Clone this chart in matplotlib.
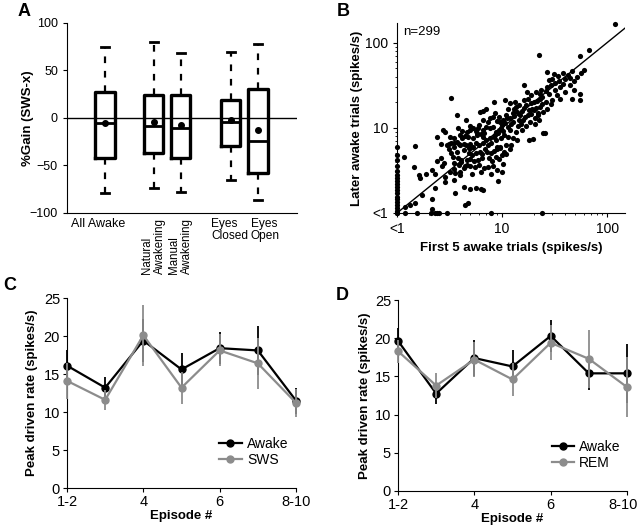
import numpy as np
import matplotlib
matplotlib.use("Agg")
import matplotlib.pyplot as plt
from matplotlib.ticker import LogLocator, NullFormatter
from matplotlib.lines import Line2D
from matplotlib.transforms import ScaledTranslation

plt.rcParams['font.family'] = ['Liberation Sans', 'DejaVu Sans']

# ---------------- Panel A data ----------------
groups = ["All Awake", "Natural\nAwakening", "Manual\nAwakening", "Eyes\nClosed", "Eyes\nOpen"]
whisk_hi = [75, 80, 68, 69, 78]
q3 = [27, 24, 24, 19, 31]
medians = [-5.6, -8.4, -10.2, -4.2, -24.6]
q1 = [-42, -36.5, -42.5, -29, -58]
whisk_lo = [-79, -74, -78, -65, -86]
means = [-5.3, -4.2, -7.7, -2.5, -12.6]

# ---------------- Panel B data ----------------
# 0 means "<1" (plotted on the axis)
first5 = [0]*20 + [1.2, 1.55, 2.1, 2.3, 2.4, 2.5, 3.0, 7.8, 24] + \
    [1.16, 1.49, 1.44, 1.61, 1.67, 1.73, 1.49, 1.34, 1.2, 1.9] + \
    [2.15, 2.32, 2.4, 2.64, 2.78, 2.7, 2.88, 2.88, 2.32, 2.15, 2.15, 2.4, 2.77, 2.86, 2.6] + \
    [3.3, 3.6, 4.3, 3.46, 3.6, 4.0, 4.3, 3.87, 3.46, 4.1, 3.3, 3.7, 4.3, 3.1, 3.46, 3.9, 4.3, 3.7, 3.8, 3.97,
     3.2, 3.5, 3.7, 3.3, 4.2, 3.0, 3.1, 3.5, 4.0, 4.5, 4.4, 3.2, 3.4, 4.1, 3.8, 4.4, 4.0, 3.5, 4.2, 4.4] + \
    [4.6, 4.6, 4.9, 4.9, 4.6, 4.95, 5.25, 5.6, 5.9, 6.6, 4.7, 5.25, 5.8, 6.6, 7.0, 4.5, 4.8, 5.3, 5.7, 6.0,
     6.6, 6.2, 6.6, 6.6, 4.8, 5.2, 5.6, 6.1, 6.5, 4.9, 5.4, 5.9, 6.4, 5.0, 5.5, 6.0, 6.8, 5.2, 6.3, 5.0,
     5.7, 6.3, 6.6, 4.7, 6.9, 5.8, 6.3, 6.8, 5.0, 6.0] + \
    [7.6, 8.2, 9.3, 9.6, 7.1, 7.7, 8.2, 8.7, 9.3, 7.6, 8.3, 8.7, 9.8, 7.4, 7.9, 8.9, 9.5, 8.4, 7.2, 7.8,
     8.4, 9.0, 9.6, 7.5, 8.1, 8.8, 9.4, 9.9, 7.3, 8.2, 8.9, 9.2, 9.9, 7.8, 8.5, 9.2, 9.7, 7.4, 8.6, 9.0, 7.0] + \
    [10.3, 10, 10.7, 11.5, 11.9, 12.8, 10.5, 11.3, 12.6, 10.9, 12.2, 10.7, 11.9, 13.3, 11.3, 12.6, 10.9, 14,
     10.4, 11.0, 10.2, 13.5, 14.2, 12.0, 13.0, 14.5, 11.2, 10.3, 12.2, 13.7, 14.8, 14.0, 11.8, 12.9, 14.6] + \
    [16, 15.5, 16.5, 17, 18, 19, 20, 21, 22, 23, 24, 16, 17.5, 19, 21, 23, 15.2, 16.8, 18.5, 20.5,
     22.5, 24.5, 18, 19.5, 22.5, 24.5, 15.8, 17.8, 20, 21.5, 23.5, 16.3, 18.8, 22, 24, 19.3, 20.8, 17.2, 15.5, 23.0] + \
    [27, 31, 30, 34, 38, 42, 46, 40, 35, 29, 27, 32, 36, 44, 48, 55, 46.5, 27, 25.5, 28,
     33, 26, 30, 52, 56, 48, 40, 36, 26, 29, 55, 32, 60, 44, 38, 28] + \
    [67, 55, 120]
later = [6.0, 4.8, 4.2, 3.6, 3.1, 2.8, 2.6, 2.4, 2.2, 2.0, 1.85, 1.7, 1.55, 1.45, 1.35, 1.25, 1.15, 1.05, 0, 0] + \
    [0]*9 + \
    [4.5, 6.1, 3.5, 2.8, 2.6, 1.63, 1.32, 1.24, 1.19, 2.9] + \
    [3.2, 2.9, 4.1, 4.4, 3.9, 3.55, 2.66, 2.33, 1.95, 1.45, 1.12, 7.7, 9.4, 9.0, 6.5] + \
    [22.5, 1.73, 2.03, 2.44, 2.92, 3.05, 3.34, 3.66, 3.82, 4.18, 5.0, 5.2, 5.5, 6.5, 6.6, 6.5, 6.4, 14.1, 9.85, 8.2,
     7.8, 7.5, 6.9, 6.6, 7.5, 6.3, 5.7, 6.0, 6.3, 12.3, 1.25, 3.0, 4.6, 4.0, 4.4, 3.6, 2.8, 3.3, 9.2, 8.0] + \
    [3.66, 4.18, 5.8, 6.5, 9.0, 9.4, 9.85, 9.15, 9.85, 9.4, 7.8, 7.5, 8.2, 7.8, 7.2, 6.27, 5.74, 6.0, 6.56, 6.27,
     6.56, 15.4, 15.7, 12.3, 5.0, 4.8, 5.1, 5.2, 4.9, 4.3, 4.1, 4.2, 4.4, 3.6, 3.5, 3.7, 3.4, 2.9, 3.0, 1.9,
     1.95, 1.9, 1.88, 1.3, 5.6, 8.8, 8.5, 8.6, 10.5, 10.8] + \
    [13, 13.4, 13.5, 11.8, 10.3, 9.85, 10.3, 9.0, 9.4, 7.5, 7.8, 7.2, 7.5, 6.27, 6.56, 6.0, 5.74, 20.2, 5.2, 5.0,
     5.3, 5.6, 5.9, 4.4, 4.1, 4.6, 4.3, 4.8, 3.5, 3.6, 3.2, 2.35, 3.0, 2.9, 8.3, 8.6, 10.0, 11.8, 15.0, 12.0, 16.5] + \
    [12.3, 10.8, 11.3, 10.3, 12.9, 11.8, 8.2, 7.8, 7.5, 6.27, 6.27, 21, 19.5, 20, 16.5, 15, 14.3, 15.5,
     5.2, 4.9, 3.8, 9.0, 10.5, 9.5, 13.8, 12.5, 13.0, 9.3, 11.0, 17.5, 14.0, 7.2, 5.6, 16.8, 18.5] + \
    [32, 15.8, 13.5, 18.5, 16, 14.5, 20, 17, 15, 22, 19, 21, 22, 24, 26, 25, 11.0, 10.5, 11.8, 13,
     12.5, 15.5, 7.2, 7.3, 71, 8.8, 12.2, 14.2, 16.2, 20.5, 28, 17, 19.5, 14, 23, 16.8, 11.2, 26, 9.5, 17.5] + \
    [45, 43, 37, 41, 44, 42, 46, 37, 35, 32, 30, 28, 30, 32, 28, 25, 21.5, 16.7, 8.7, 25,
     24, 27, 21, 40, 44, 35, 26, 22, 20, 19, 21, 34, 48, 38, 33, 36] + \
    [82, 69, 165]
n_label = "n=299"

# ---------------- Panels C & D data ----------------
episodes = ["1-2", "3", "4", "5", "6", "7", "8-10"]
episode_ticks = ["1-2", "4", "6", "8-10"]
awake_c = [16.1, 13.2, 19.4, 15.6, 18.4, 18.1, 11.5]
awake_c_err = [2.0, 1.4, 2.8, 2.1, 2.1, 3.2, 1.7]
sws_c = [14.1, 11.6, 20.1, 13.2, 18.1, 16.4, 11.2]
sws_c_err = [2.4, 1.3, 4.0, 2.1, 2.1, 3.4, 1.8]
awake_d = [19.65, 12.75, 17.4, 16.3, 20.3, 15.4, 15.4]
awake_d_err = [1.7, 1.3, 2.3, 2.2, 2.1, 2.2, 3.9]
rem_d = [18.3, 13.8, 17.2, 14.6, 19.4, 17.3, 13.6]
rem_d_err = [1.5, 1.6, 2.3, 2.2, 2.3, 3.8, 3.9]

GRAY = '#8c8c8c'
W, H = 640, 528
fig = plt.figure(figsize=(6.4, 5.28), dpi=100)

def box(l, t, r, b):
    return [l / W, 1 - b / H, (r - l) / W, (b - t) / H]

# ---------------- A ----------------
axA = fig.add_axes(box(67, 23, 297, 213))
pos = [1.4, 3.2, 4.2, 6.05, 7.05]
stats = []
for i in range(len(groups)):
    stats.append(dict(med=medians[i], q1=q1[i], q3=q3[i], whislo=whisk_lo[i],
                      whishi=whisk_hi[i], mean=means[i], fliers=[], label=groups[i]))
axA.axhline(0, color='k', lw=1, zorder=1)
axA.bxp(stats, positions=pos, widths=0.72, showmeans=True, showfliers=False,
        boxprops=dict(color='k', lw=2.4), medianprops=dict(color='k', lw=2),
        whiskerprops=dict(color='k', lw=1.6, ls=(0, (3, 3.5))),
        capprops=dict(color='k', lw=2), capwidths=0.3,
        meanprops=dict(marker='o', markerfacecolor='k', markeredgecolor='k', markersize=4))
axA.set_xlim(0, 8.5)
axA.set_ylim(-100, 100)
axA.set_yticks([-100, -50, 0, 50, 100])
axA.set_xticks(pos)
axA.set_xticklabels([])
axA.tick_params(axis='x', length=0)
axA.tick_params(axis='y', labelsize=9, length=3, width=0.8)
for s in ('top', 'right'):
    axA.spines[s].set_visible(False)
lab_specs = [
    (1.15, dict(rotation=0, ha='center', fontsize=9)),
    (3.2, dict(rotation=90, ha='center', fontsize=8.3, multialignment='left')),
    (4.2, dict(rotation=90, ha='center', fontsize=8.3, multialignment='left')),
    (5.33, dict(rotation=0, ha='left', fontsize=8.6, multialignment='left')),
    (7.3, dict(rotation=0, ha='center', fontsize=8.6, multialignment='center')),
]
xt = axA.get_xaxis_transform()
for g, (xp, kw) in zip(groups, lab_specs):
    axA.text(xp, -0.025, g, transform=xt, va='top', linespacing=1.05, **kw)
axA.set_ylabel("%Gain (SWS-x)", fontsize=9.5, fontweight='bold')
axA.yaxis.set_label_coords(-0.143, 0.5)
fig.text(18 / W, 1 - 12 / H, "A", fontsize=13, fontweight='bold', ha='left', va='center')

# ---------------- B ----------------
axB = fig.add_axes(box(397, 23, 625, 213))
axB.set_xscale('log')
axB.set_yscale('log')
axB.set_xlim(1, 148)
axB.set_ylim(1, 170)
xs = np.maximum(np.array(first5, dtype=float), 1)
ys = np.maximum(np.array(later, dtype=float), 1)
axB.plot([1, 200], [1, 200], color='k', lw=1, zorder=2)
axB.scatter(xs, ys, s=14, color='k', zorder=3, clip_on=False, linewidths=0)
axB.set_xticks([1, 10, 100])
axB.set_xticklabels(['<1', '10', '100'])
axB.set_yticks([1, 10, 100])
axB.set_yticklabels(['<1', '10', '100'])
axB.xaxis.set_minor_locator(LogLocator(subs=np.arange(2, 10)))
axB.yaxis.set_minor_locator(LogLocator(subs=np.arange(2, 10)))
axB.xaxis.set_minor_formatter(NullFormatter())
axB.yaxis.set_minor_formatter(NullFormatter())
axB.tick_params(which='major', labelsize=10, length=3, width=0.8)
axB.tick_params(which='minor', length=1.5, width=0.6)
for s in ('top', 'right'):
    axB.spines[s].set_visible(False)
axB.text(0.025, 0.95, n_label, transform=axB.transAxes, fontsize=9.5, ha='left', va='center')
axB.set_xlabel("First 5 awake trials (spikes/s)", fontsize=9.5, fontweight='bold')
axB.set_ylabel("Later awake trials (spikes/s)", fontsize=9.5, fontweight='bold')
axB.yaxis.set_label_coords(-0.149, 0.5)
fig.text(337 / W, 1 - 12 / H, "B", fontsize=13, fontweight='bold', ha='left', va='center')

# ---------------- C & D ----------------
def episode_panel(rect, a_vals, a_err, b_vals, b_err, b_label, letter, lpos, ylx, last_shift):
    ax = fig.add_axes(rect)
    xpos = np.arange(len(episodes))
    ax.errorbar(xpos, a_vals, yerr=a_err, fmt='none', ecolor='k', elinewidth=1.3, capsize=0,
                zorder=2, clip_on=False)
    ax.plot(xpos, a_vals, color='k', lw=1.6, marker='o', markersize=5, zorder=3, clip_on=False)
    ax.errorbar(xpos, b_vals, yerr=b_err, fmt='none', ecolor=GRAY, elinewidth=1.3, capsize=0,
                zorder=4, clip_on=False)
    ax.plot(xpos, b_vals, color=GRAY, lw=1.6, marker='o', markersize=5, zorder=5, clip_on=False)
    ax.set_xlim(0, 6)
    ax.set_ylim(0, 25)
    ax.set_yticks([0, 5, 10, 15, 20, 25])
    ax.set_xticks([0, 2, 4, 6])
    ax.set_xticklabels(episode_ticks)
    ax.tick_params(labelsize=10.5, length=3, width=0.8, pad=2)
    if last_shift:
        lab = ax.xaxis.get_major_ticks()[-1].label1
        lab.set_transform(lab.get_transform() +
                          ScaledTranslation(-last_shift / 72, 0, fig.dpi_scale_trans))
    for s in ('top', 'right'):
        ax.spines[s].set_visible(False)
    ax.set_xlabel("Episode #", fontsize=9.5, fontweight='bold', labelpad=1)
    ax.set_ylabel("Peak driven rate (spikes/s)", fontsize=9.5, fontweight='bold')
    ax.yaxis.set_label_coords(ylx, 0.5)
    handles = [Line2D([], [], color='k', lw=1.6, marker='o', markersize=5),
               Line2D([], [], color=GRAY, lw=1.6, marker='o', markersize=5)]
    ax.legend(handles, ["Awake", b_label], frameon=False, loc='center left',
              bbox_to_anchor=lpos, fontsize=10, handlelength=1.6, handletextpad=0.4,
              labelspacing=0.15, borderpad=0)
    fig.text(letter[1] / W, 1 - letter[2] / H, letter[0], fontsize=13, fontweight='bold',
             ha='left', va='center')
    return ax

episode_panel(box(67, 298, 296, 488), awake_c, awake_c_err, sws_c, sws_c_err, "SWS",
              ("C", 3, 285), (0.635, 0.19), -0.127, 0)
episode_panel(box(398, 300, 627, 491), awake_d, awake_d_err, rem_d, rem_d_err, "REM",
              ("D", 336, 296), (0.64, 0.19), -0.118, 2.5)

fig.savefig("out.png", dpi=100)
